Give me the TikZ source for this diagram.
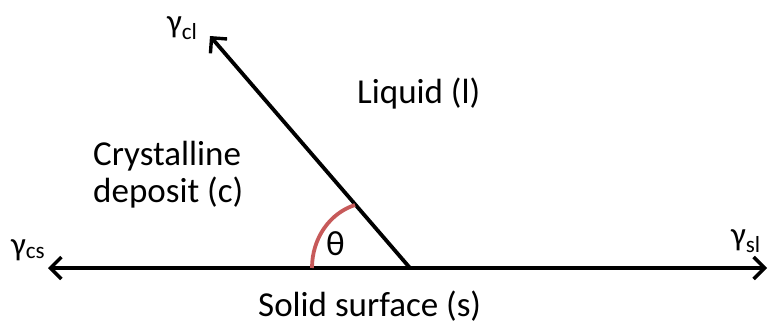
\documentclass[tikz,border=0pt]{standalone}
\usepackage{fontspec}
\setmainfont{Carlito}
\usetikzlibrary{arrows.meta}
\definecolor{arcred}{HTML}{C75A5A}
\begin{document}
\begin{tikzpicture}[x=1pt,y=-1pt,
  vec/.style={line width=3.8pt,-{Straight Barb[length=11pt,width=22pt,line width=3.4pt]}},
  lbl/.style={font=\fontsize{35}{40}\selectfont,inner sep=0pt},
  gam/.style={font=\fontsize{33}{40}\selectfont,inner sep=0pt}]
\useasboundingbox (0,0) rectangle (770,324);
\coordinate (V) at (410,268);
\coordinate (L) at (48,268);
\coordinate (R) at (767,268);
\coordinate (T) at (210,36);
\draw[vec] (V) -- (L);
\draw[vec] (V) -- (R);
\draw[vec] (V) -- (T);
\coordinate (A1) at (312,268);
\coordinate (A2) at (355,205);
\draw[arcred,line width=3.8pt] (A1) .. controls (312,238) and (330,213) .. (A2);
\node[gam,anchor=base west] (gcl) at (167,32) {γ\textsubscript{cl}};
\node[gam,anchor=base west] (gcs) at (11,255) {γ\textsubscript{cs}};
\node[gam,anchor=base west] (gsl) at (731,245) {γ\textsubscript{sl}};
\node[lbl,anchor=base west] (liq) at (357,103) {Liquid (l)};
\node[lbl,anchor=base west] (cry) at (93,165) {Crystalline};
\node[lbl,anchor=base west] (dep) at (93,202) {deposit (c)};
\node[lbl,anchor=base west] (th) at (326,255) {θ};
\node[lbl,anchor=base west] (sol) at (258,316) {Solid surface (s)};
\end{tikzpicture}
\end{document}
